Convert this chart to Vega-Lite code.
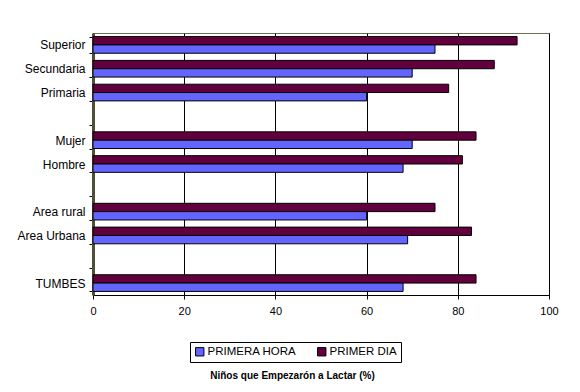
{
  "$schema": "https://vega.github.io/schema/vega-lite/v6.json",
  "width": 456,
  "height": 262,
  "autosize": "none",
  "padding": {"left": 93, "top": 33, "right": 31, "bottom": 97},
  "background": "white",
  "config": {
    "font": "Liberation Sans",
    "view": {"stroke": "#707050", "strokeWidth": 1}
  },
  "data": {
    "values": [
      {"cat": "Superior", "serie": "PRIMER DIA", "v": 93},
      {"cat": "Superior", "serie": "PRIMERA HORA", "v": 75},
      {"cat": "Secundaria", "serie": "PRIMER DIA", "v": 88},
      {"cat": "Secundaria", "serie": "PRIMERA HORA", "v": 70},
      {"cat": "Primaria", "serie": "PRIMER DIA", "v": 78},
      {"cat": "Primaria", "serie": "PRIMERA HORA", "v": 60},
      {"cat": "Mujer", "serie": "PRIMER DIA", "v": 84},
      {"cat": "Mujer", "serie": "PRIMERA HORA", "v": 70},
      {"cat": "Hombre", "serie": "PRIMER DIA", "v": 81},
      {"cat": "Hombre", "serie": "PRIMERA HORA", "v": 68},
      {"cat": "Area rural", "serie": "PRIMER DIA", "v": 75},
      {"cat": "Area rural", "serie": "PRIMERA HORA", "v": 60},
      {"cat": "Area Urbana", "serie": "PRIMER DIA", "v": 83},
      {"cat": "Area Urbana", "serie": "PRIMERA HORA", "v": 69},
      {"cat": "TUMBES", "serie": "PRIMER DIA", "v": 84},
      {"cat": "TUMBES", "serie": "PRIMERA HORA", "v": 68}
    ]
  },
  "mark": {"type": "bar", "stroke": "black", "strokeWidth": 1},
  "encoding": {
    "y": {
      "field": "cat",
      "type": "nominal",
      "scale": {
        "domain": ["Superior", "Secundaria", "Primaria", "gap1", "Mujer", "Hombre", "gap2", "Area rural", "Area Urbana", "gap3", "TUMBES"],
        "paddingInner": 0.3,
        "paddingOuter": 0.15
      },
      "axis": {
        "title": null,
        "labelExpr": "indexof(datum.label, 'gap') == 0 ? '' : datum.label",
        "labelFontSize": 12,
        "labelColor": "black",
        "labelPadding": 4,
        "domainColor": "#505038",
        "domainWidth": 3,
        "tickColor": "black",
        "tickSize": 4,
        "tickBand": "extent",
        "grid": false
      }
    },
    "yOffset": {
      "field": "serie",
      "type": "nominal",
      "sort": ["PRIMER DIA", "PRIMERA HORA"]
    },
    "x": {
      "field": "v",
      "type": "quantitative",
      "scale": {"domain": [0, 100], "nice": false},
      "axis": {
        "values": [0, 20, 40, 60, 80, 100],
        "labelFlush": false,
        "labelFontSize": 11,
        "labelColor": "black",
        "labelPadding": 6,
        "domainColor": "black",
        "tickColor": "black",
        "tickSize": 4,
        "gridColor": "black",
        "gridOpacity": 1,
        "title": "Niños que Empezarón a Lactar (%)",
        "titleFontSize": 10,
        "titleFontWeight": "bold",
        "titleColor": "black",
        "titleX": 199,
        "titleY": 85,
        "titleBaseline": "bottom"
      }
    },
    "color": {
      "field": "serie",
      "type": "nominal",
      "scale": {
        "domain": ["PRIMERA HORA", "PRIMER DIA"],
        "range": ["#6464FF", "#62003E"]
      },
      "legend": {
        "title": null,
        "orient": "none",
        "direction": "horizontal",
        "legendX": 97,
        "legendY": 309,
        "strokeColor": "black",
        "padding": 4,
        "symbolType": "square",
        "symbolSize": 70,
        "symbolStrokeColor": "black",
        "symbolStrokeWidth": 1,
        "symbolOpacity": 1,
        "labelFontSize": 11.5,
        "labelColor": "black",
        "labelOffset": 2,
        "columnPadding": 18
      }
    }
  }
}
